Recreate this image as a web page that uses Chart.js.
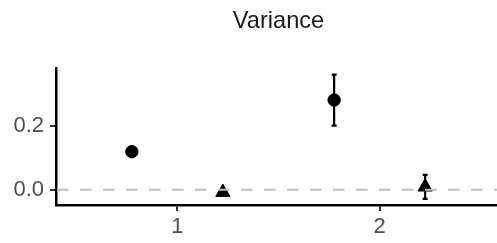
<!DOCTYPE html>
<html>
<head>
<meta charset="utf-8">
<script src="https://cdn.jsdelivr.net/npm/chart.js@4/dist/chart.umd.min.js"></script>
<style>
  html, body { margin: 0; padding: 0; background: #fff; overflow: hidden; }
  #wrap { width: 501px; height: 243px; }
</style>
</head>
<body>
<div id="wrap"><canvas id="chart" width="501" height="243"></canvas></div>
<script>
const title = 'Variance';
const categories = [1, 2];
const yTicks = [0, 0.2];

// circles (left of each category)
const circleMean = [0.12, 0.283];
const circleLow = [0.115, 0.202];
const circleHigh = [0.125, 0.363];

// triangles (right of each category)
const triMean = [-0.008, 0.009];
const triLow = [-0.012, -0.029];
const triHigh = [-0.004, 0.047];

const refLine = 0;

const dodge = 0.225;
const FONT = '"Liberation Sans", Arial, Helvetica, sans-serif';

const toPoints = (means, shift) => categories.map((c, i) => ({ x: c + shift, y: means[i] }));

const errorBars = [
    { shift: -dodge, low: circleLow, high: circleHigh },
    { shift: dodge, low: triLow, high: triHigh },
];

const extras = {
    id: 'extras',
    afterDatasetsDraw(chart) {
        const { ctx, chartArea, scales: { x, y } } = chart;
        ctx.save();
        // error bars
        ctx.strokeStyle = '#000';
        ctx.lineWidth = 2.2;
        ctx.lineCap = 'butt';
        errorBars.forEach(bar => {
            categories.forEach((c, i) => {
                const px = x.getPixelForValue(c + bar.shift);
                const top = y.getPixelForValue(bar.high[i]);
                const bot = y.getPixelForValue(bar.low[i]);
                ctx.beginPath();
                ctx.moveTo(px, top);
                ctx.lineTo(px, bot);
                ctx.moveTo(px - 2.5, top);
                ctx.lineTo(px + 2.5, top);
                ctx.moveTo(px - 2.5, bot);
                ctx.lineTo(px + 2.5, bot);
                ctx.stroke();
            });
        });
        // dashed reference line
        const ry = y.getPixelForValue(refLine);
        ctx.strokeStyle = '#bebebe';
        ctx.lineWidth = 2;
        ctx.setLineDash([11.5, 11.5]);
        ctx.beginPath();
        ctx.moveTo(chartArea.left + 1, ry);
        ctx.lineTo(chartArea.right, ry);
        ctx.stroke();
        ctx.restore();
    },
    afterDraw(chart) {
        const { ctx, chartArea } = chart;
        ctx.save();
        ctx.font = '23.6px ' + FONT;
        ctx.fillStyle = '#1a1a1a';
        ctx.textAlign = 'center';
        ctx.textBaseline = 'alphabetic';
        ctx.fillText(title, (chartArea.left + chartArea.right) / 2, 28);
        ctx.restore();
    },
};

new Chart(document.getElementById('chart'), {
    type: 'scatter',
    data: {
        datasets: [
            {
                data: toPoints(circleMean, -dodge),
                pointStyle: 'circle',
                pointRadius: 6.2,
                borderWidth: 1,
                backgroundColor: '#000',
                borderColor: '#000',
            },
            {
                data: toPoints(triMean, dodge),
                pointStyle: 'triangle',
                pointRadius: 8.2,
                borderWidth: 1,
                backgroundColor: '#000',
                borderColor: '#000',
            },
        ],
    },
    options: {
        responsive: false,
        animation: false,
        events: [],
        layout: { autoPadding: false, padding: { top: 68, left: 0, right: 0, bottom: 0 } },
        plugins: { legend: { display: false }, tooltip: { enabled: false }, title: { display: false } },
        scales: {
            x: {
                type: 'linear',
                min: 0.4,
                max: 2.6,
                afterFit: s => { s.height = 38; },
                afterBuildTicks: s => { s.ticks = categories.map(v => ({ value: v })); },
                grid: { drawOnChartArea: false, drawTicks: true, tickLength: 6, color: '#333', lineWidth: 2 },
                border: { display: true, color: '#000', width: 2.5 },
                ticks: {
                    padding: 3,
                    color: '#4d4d4d',
                    font: { family: FONT, size: 22 },
                    callback: v => String(v),
                    maxRotation: 0,
                },
            },
            y: {
                type: 'linear',
                min: -0.048,
                max: 0.384,
                afterFit: s => { s.width = 56; },
                afterBuildTicks: s => { s.ticks = yTicks.map(v => ({ value: v })); },
                grid: { drawOnChartArea: false, drawTicks: true, tickLength: 6, color: '#333', lineWidth: 2 },
                border: { display: true, color: '#000', width: 2.5 },
                ticks: {
                    padding: 6,
                    color: '#4d4d4d',
                    font: { family: FONT, size: 22 },
                    callback: v => v.toFixed(1),
                },
            },
        },
    },
    plugins: [extras],
});
</script>
</body>
</html>
